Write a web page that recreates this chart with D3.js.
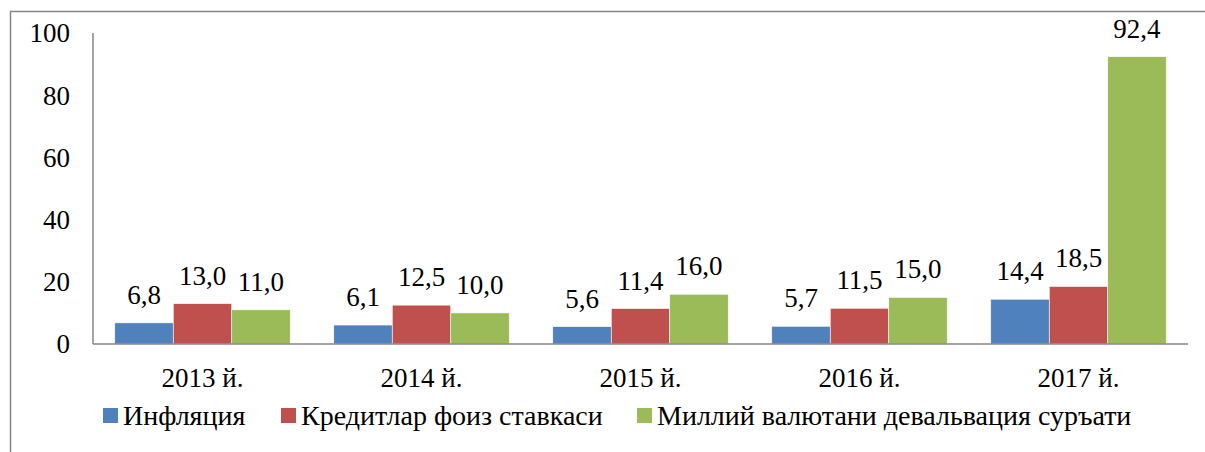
<!DOCTYPE html>
<html>
<head>
<meta charset="utf-8">
<script src="https://cdn.jsdelivr.net/npm/d3@7"></script>
<style>
  body { margin: 0; background: #fff; }
</style>
</head>
<body>
<svg width="1205" height="452"></svg>
<script>
const years = ['2013 й.', '2014 й.', '2015 й.', '2016 й.', '2017 й.'];
const seriesNames = ['Инфляция', 'Кредитлар фоиз ставкаси', 'Миллий валютани девальвация суръати'];
const inflation = [6.8, 6.1, 5.6, 5.7, 14.4];
const loanRates = [13.0, 12.5, 11.4, 11.5, 18.5];
const devaluation = [11.0, 10.0, 16.0, 15.0, 92.4];
const yTicks = [0, 20, 40, 60, 80, 100];
const colors = ['#4F81BD', '#C0504D', '#9BBB59'];

const series = [inflation, loanRates, devaluation];
const svg = d3.select('svg')
  .attr('font-family', "Liberation Serif, Tinos, DejaVu Serif, serif");

// outer frame
svg.append('rect')
  .attr('x', 10.5).attr('y', 11.5)
  .attr('width', 1220).attr('height', 460)
  .attr('fill', 'none').attr('stroke', '#868686').attr('stroke-width', 1.5);

const x = d3.scaleBand().domain(years).range([93, 1188]).paddingInner(0).paddingOuter(0);
const x1 = d3.scaleBand().domain(d3.range(3)).range([0, x.bandwidth()]).paddingOuter(0.372);
const y = d3.scaleLinear().domain([0, 100]).range([344, 33]);

// y axis labels
svg.append('g').selectAll('text').data(yTicks).join('text')
  .attr('x', 70).attr('y', d => y(d)).attr('dy', '0.35em')
  .attr('text-anchor', 'end').attr('font-size', 27)
  .text(d => d);

svg.append('line')
  .attr('x1', 93).attr('x2', 93).attr('y1', y(100)).attr('y2', y(0))
  .attr('stroke', '#868686').attr('stroke-width', 1.5);

// bars
const groups = svg.append('g').selectAll('g').data(years).join('g')
  .attr('transform', d => `translate(${x(d)},0)`);

groups.each(function (yr, i) {
  const g = d3.select(this);
  series.forEach((s, k) => {
    g.append('rect')
      .attr('x', x1(k)).attr('y', y(s[i]))
      .attr('width', x1.bandwidth()).attr('height', y(0) - y(s[i]))
      .attr('fill', colors[k]).attr('stroke', '#fff').attr('stroke-width', 0.6);
    g.append('text')
      .attr('x', x1(k) + x1.bandwidth() / 2).attr('y', y(s[i]) - 19)
      .attr('text-anchor', 'middle').attr('font-size', 27)
      .text(d3.format('.1f')(s[i]).replace('.', ','));
  });
});

svg.append('line')
  .attr('x1', 93).attr('x2', 1188).attr('y1', y(0)).attr('y2', y(0))
  .attr('stroke', '#868686').attr('stroke-width', 1.5);

// category labels
svg.append('g').selectAll('text').data(years).join('text')
  .attr('x', d => x(d) + x.bandwidth() / 2).attr('y', 387)
  .attr('text-anchor', 'middle').attr('font-size', 27)
  .text(d => d);

// legend
const legendX = [103, 281, 637];
const legend = svg.append('g').selectAll('g').data(seriesNames).join('g')
  .attr('transform', (d, i) => `translate(${legendX[i]},0)`);
legend.append('rect')
  .attr('x', 0).attr('y', 408).attr('width', 15).attr('height', 15)
  .attr('fill', (d, i) => colors[i]);
legend.append('text')
  .attr('x', 20).attr('y', 425).attr('font-size', 28)
  .text(d => d);
</script>
</body>
</html>
